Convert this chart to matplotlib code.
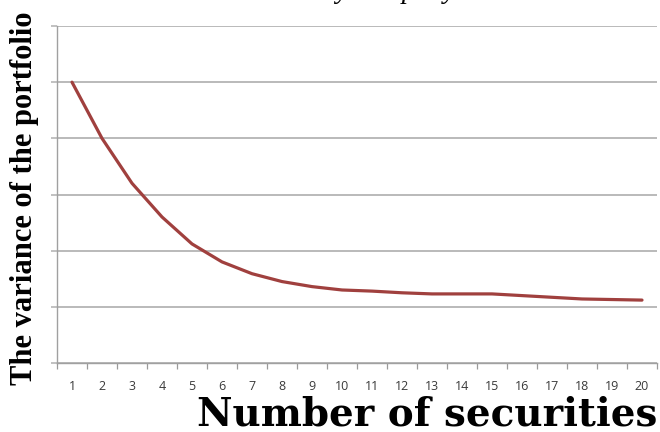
import matplotlib
matplotlib.use("Agg")
import matplotlib.pyplot as plt
from matplotlib.ticker import MultipleLocator

# number of securities held vs. portfolio variance (gridline units)
securities = list(range(1, 21))
variance = [5.0, 4.0, 3.2, 2.6, 2.12, 1.8, 1.59, 1.45, 1.36, 1.30,
            1.28, 1.25, 1.23, 1.23, 1.23, 1.20, 1.17, 1.14, 1.13, 1.12]

title = "Risk reduction by company"
xlabel = "Number of securities"
ylabel = "The variance of the portfolio"

fig = plt.figure(figsize=(6.6, 4.32), dpi=100)
ax = fig.add_axes([57 / 660, 1 - 363 / 432, 600 / 660, (363 - 26) / 432])

ax.plot(securities, variance, color="#a0403e", lw=2.3,
        solid_joinstyle="round", solid_capstyle="round", zorder=3)

ax.set_xlim(0.5, 20.5)
ax.set_ylim(0, 6)
ax.set_xticks(securities)
ax.set_xticklabels([str(s) for s in securities], fontsize=9,
                   family="Open Sans", color="#3a3a3a")
ax.xaxis.set_minor_locator(MultipleLocator(1, offset=0.5))
ax.tick_params(axis="x", which="major", length=0, pad=12)
ax.tick_params(axis="x", which="minor", length=4, width=0.9, color="#9a9a9a")
ax.yaxis.set_major_locator(MultipleLocator(1))
ax.tick_params(axis="y", length=4, width=1.1, color="#b0b0b0", labelleft=False)
ax.grid(axis="y", color="#b4b4b4", lw=1.3)

for side in ("top", "right"):
    ax.spines[side].set_visible(False)
for side in ("left", "bottom"):
    ax.spines[side].set_color("#a0a0a0")
    ax.spines[side].set_linewidth(1.0)

fig.text(657 / 660, 1 - 425 / 432, xlabel, ha="right", va="baseline",
         family="DejaVu Serif", fontweight="heavy", fontsize=28)
fig.text(25 / 660, 1 - 198 / 432, ylabel, rotation=90, ha="center", va="center",
         family="Liberation Serif", fontweight="bold", fontsize=22)
# title sits above the canvas, only its descenders show
fig.text(155 / 660, 1 + 2 / 432, title, ha="left", va="baseline",
         family="Liberation Serif", style="italic", fontsize=20)

fig.savefig("out.png", dpi=100)
